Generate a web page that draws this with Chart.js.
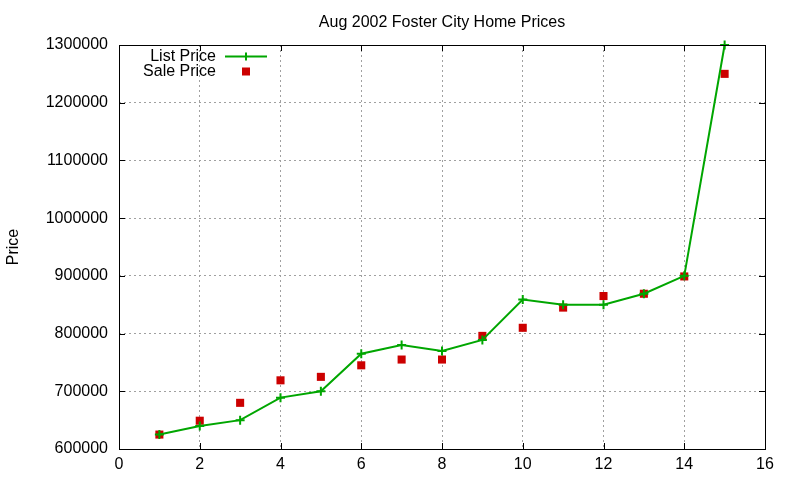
<!DOCTYPE html>
<html>
<head>
<meta charset="utf-8">
<script src="https://cdn.jsdelivr.net/npm/chart.js@4.4.1/dist/chart.umd.min.js"></script>
<style>
html,body{margin:0;padding:0;background:#fff;}
#wrap{width:800px;height:480px;}
</style>
</head>
<body>
<div id="wrap"><canvas id="c" width="800" height="480"></canvas></div>
<script>
const chartTitle = "Aug 2002 Foster City Home Prices";
const yAxisLabel = "Price";
const houses = [1,2,3,4,5,6,7,8,9,10,11,12,13,14,15];
const listPrice = [625000,640000,650000,689000,700000,765000,780000,770000,789000,859000,850000,850000,869000,900000,1300000];
const salePrice = [625000,649000,680000,719000,725000,745000,755000,755000,796000,810000,845000,865000,869000,899000,1250000];
const seriesNames = ["List Price","Sale Price"];
const xTicks = [0,2,4,6,8,10,12,14,16];
const yTicks = [600000,700000,800000,900000,1000000,1100000,1200000,1300000];

const GREEN = '#00a600';
const RED = '#cc0000';
const FONT = '16px "Liberation Sans", Arial, sans-serif';

const pts = (ys) => houses.map((x,i)=>({x:x,y:ys[i]}));

const decor = {
  id:'decor',
  afterDraw(chart){
    const ctx = chart.ctx, a = chart.chartArea;
    const xs = chart.scales.x, ys = chart.scales.y;
    ctx.save();
    // frame
    ctx.strokeStyle = '#000'; ctx.lineWidth = 1; ctx.setLineDash([]);
    ctx.strokeRect(Math.round(a.left)+0.5, Math.round(a.top)+0.5, Math.round(a.right-a.left), Math.round(a.bottom-a.top));
    // inward ticks
    ctx.beginPath();
    xTicks.forEach(v=>{
      const px = Math.round(xs.getPixelForValue(v))+0.5;
      ctx.moveTo(px, a.bottom); ctx.lineTo(px, a.bottom-6);
      ctx.moveTo(px, a.top); ctx.lineTo(px, a.top+6);
    });
    yTicks.forEach(v=>{
      const py = Math.round(ys.getPixelForValue(v))+0.5;
      ctx.moveTo(a.left, py); ctx.lineTo(a.left+6, py);
      ctx.moveTo(a.right, py); ctx.lineTo(a.right-6, py);
    });
    ctx.stroke();
    // title
    ctx.fillStyle = '#000';
    ctx.font = FONT;
    ctx.textAlign = 'center'; ctx.textBaseline = 'alphabetic';
    ctx.fillText(chartTitle, (a.left+a.right)/2, 27);
    // y label
    ctx.save();
    ctx.translate(18, 247);
    ctx.rotate(-Math.PI/2);
    ctx.textAlign = 'center';
    ctx.fillText(yAxisLabel, 0, 0);
    ctx.restore();
    // legend
    ctx.textAlign = 'right';
    ctx.fillText(seriesNames[0], 216, 61);
    ctx.fillText(seriesNames[1], 216, 76);
    ctx.strokeStyle = GREEN; ctx.lineWidth = 2;
    ctx.beginPath(); ctx.moveTo(225, 56.5); ctx.lineTo(267, 56.5);
    ctx.moveTo(246, 52.5); ctx.lineTo(246, 60.5); ctx.stroke();
    ctx.fillStyle = RED;
    ctx.fillRect(242, 67.5, 8, 8);
    ctx.restore();
  }
};

new Chart(document.getElementById('c'), {
  type:'scatter',
  data:{
    datasets:[
      {label:seriesNames[0], data:pts(listPrice), showLine:true, borderColor:GREEN, backgroundColor:GREEN, clip:false,
       borderWidth:2, pointStyle:'cross', pointRadius:4.5, pointBorderWidth:2, pointHoverRadius:4.5, tension:0},
      {label:seriesNames[1], data:pts(salePrice), showLine:false, borderColor:RED, backgroundColor:RED, clip:false,
       pointStyle:'rect', pointRadius:5.7, pointBorderWidth:0, pointHoverRadius:5.7}
    ]
  },
  options:{
    responsive:false, animation:false, devicePixelRatio:1,
    layout:{padding:{top:45,right:35,left:0,bottom:0}},
    plugins:{legend:{display:false}, title:{display:false}, tooltip:{enabled:false}},
    scales:{
      x:{type:'linear', min:0, max:16,
        afterFit(s){ s.height = 31; },
        afterBuildTicks(s){ s.ticks = xTicks.map(v=>({value:v})); },
        grid:{color:'#a0a0a0', lineWidth:1, drawTicks:false},
        border:{display:false, dash:[2,3]},
        ticks:{color:'#000', font:{family:'"Liberation Sans", Arial, sans-serif', size:16}, padding:6, maxRotation:0}
      },
      y:{type:'linear', min:600000, max:1300000,
        afterFit(s){ s.width = 119; },
        afterBuildTicks(s){ s.ticks = yTicks.map(v=>({value:v})); },
        grid:{color:'#a0a0a0', lineWidth:1, drawTicks:false},
        border:{display:false, dash:[2,3]},
        ticks:{color:'#000', font:{family:'"Liberation Sans", Arial, sans-serif', size:16}, padding:11,
          callback:(v)=>String(v)}
      }
    }
  },
  plugins:[decor]
});
</script>
</body>
</html>
